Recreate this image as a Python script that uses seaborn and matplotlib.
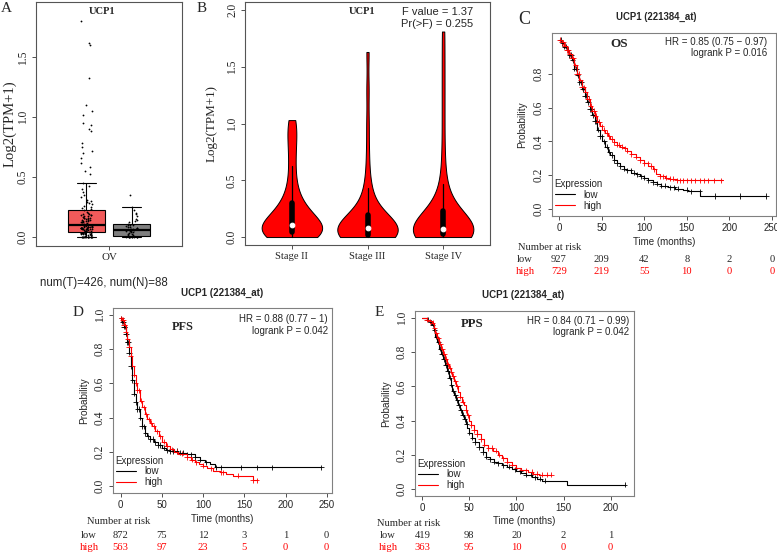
import numpy as np
import pandas as pd
import seaborn as sns
import matplotlib.pyplot as plt
from matplotlib.transforms import blended_transform_factory

W, H = 777, 554
SERIF = ['Liberation Serif', 'DejaVu Serif']
SANS = ['Liberation Sans', 'DejaVu Sans']

# ---------------- A: UCP1 in OV, tumour vs normal, log2(TPM+1)
tumor_vals = [0, 0, 0, 0, 0, 0, 0, 0, 0, 0, 0, 0, 0, 0, 0, 0, 0.005, 0.01, 0.01, 0.01,
              0.015, 0.02, 0.02, 0.02, 0.025, 0.025, 0.03, 0.03, 0.03, 0.03, 0.03, 0.03,
              0.03, 0.035, 0.04, 0.04, 0.04, 0.045, 0.045, 0.05, 0.05, 0.05, 0.055, 0.055,
              0.06, 0.06, 0.06, 0.06, 0.065, 0.065, 0.065, 0.07, 0.07, 0.07, 0.07, 0.075,
              0.075, 0.075, 0.075, 0.08, 0.08, 0.08, 0.08, 0.08, 0.08, 0.085, 0.09, 0.09,
              0.09, 0.095, 0.1, 0.1, 0.1, 0.105, 0.11, 0.11, 0.115, 0.12, 0.12, 0.12, 0.125,
              0.13, 0.13, 0.135, 0.14, 0.14, 0.14, 0.145, 0.15, 0.155, 0.16, 0.16, 0.16,
              0.165, 0.17, 0.175, 0.18, 0.18, 0.185, 0.19, 0.19, 0.2, 0.21, 0.22, 0.23, 0.24,
              0.25, 0.26, 0.27, 0.28, 0.29, 0.3, 0.31, 0.33, 0.35, 0.37, 0.4, 0.42, 0.45,
              0.52, 0.55, 0.58, 0.62, 0.66, 0.7, 0.72, 0.75, 0.78, 0.88, 0.9, 0.93, 0.95,
              1.02, 1.05, 1.1, 1.33, 1.6, 1.62, 1.8]
normal_vals = [0, 0, 0, 0, 0, 0, 0, 0, 0, 0, 0, 0.01, 0.015, 0.02, 0.025, 0.03, 0.035,
               0.04, 0.045, 0.05, 0.05, 0.055, 0.06, 0.06, 0.065, 0.07, 0.075, 0.08, 0.085,
               0.09, 0.095, 0.1, 0.1, 0.11, 0.12, 0.13, 0.14, 0.15, 0.17, 0.19, 0.2, 0.22,
               0.245, 0.35]
groups_A = ['Tumor', 'Normal']

# ---------------- B: UCP1 by stage
stage_names = ['Stage II', 'Stage III', 'Stage IV']
stage2_vals = [0, 0, 0, 0.005, 0.01, 0.02, 0.03, 0.04, 0.05, 0.06, 0.07, 0.08, 0.09, 0.095,
               0.1, 0.105, 0.11, 0.15, 0.17, 0.19, 0.21, 0.24, 0.27, 0.29, 0.34, 0.42, 0.5,
               0.63, 0.75, 0.86, 0.95, 1.03]
stage3_vals = [0, 0, 0, 0, 0, 0.005, 0.01, 0.01, 0.015, 0.02, 0.02, 0.025, 0.03, 0.04, 0.05,
               0.055, 0.06, 0.065, 0.07, 0.075, 0.08, 0.085, 0.09, 0.1, 0.11, 0.12, 0.13,
               0.15, 0.17, 0.19, 0.22, 0.26, 0.3, 0.36, 0.43, 0.55, 0.75, 1.0, 1.3, 1.63]
stage4_vals = [0, 0, 0, 0, 0, 0.005, 0.01, 0.01, 0.015, 0.02, 0.02, 0.025, 0.03, 0.035, 0.04,
               0.045, 0.05, 0.055, 0.06, 0.06, 0.065, 0.07, 0.075, 0.08, 0.09, 0.1, 0.11,
               0.12, 0.14, 0.16, 0.18, 0.2, 0.22, 0.26, 0.29, 0.33, 0.38, 0.47, 0.6, 0.8,
               1.05, 1.3, 1.55, 1.81]

# ---------------- C: OS
os_low_t = [0, 3, 6, 9, 12, 15, 18, 21, 24, 27, 30, 33, 36, 39, 42, 45, 48, 51, 54, 57, 60,
            64, 68, 72, 76, 80, 85, 90, 95, 100, 105, 110, 115, 120, 128, 136, 145, 152,
            166, 243]
os_low_s = [1.0, 0.98, 0.96, 0.94, 0.91, 0.88, 0.83, 0.79, 0.75, 0.71, 0.67, 0.63, 0.59,
            0.555, 0.52, 0.47, 0.43, 0.40, 0.37, 0.34, 0.32, 0.29, 0.27, 0.255, 0.24, 0.23,
            0.215, 0.205, 0.195, 0.185, 0.17, 0.16, 0.15, 0.14, 0.13, 0.12, 0.115, 0.105,
            0.078, 0.078]
os_high_t = [0, 3, 6, 9, 12, 15, 18, 21, 24, 27, 30, 33, 36, 39, 42, 45, 48, 51, 54, 57, 60,
             64, 68, 72, 76, 80, 85, 90, 95, 100, 105, 110, 114, 118, 124, 130, 138, 192]
os_high_s = [1.0, 0.985, 0.965, 0.94, 0.915, 0.89, 0.85, 0.80, 0.76, 0.72, 0.69, 0.65, 0.61,
             0.58, 0.55, 0.515, 0.49, 0.47, 0.45, 0.43, 0.415, 0.395, 0.38, 0.37, 0.36,
             0.345, 0.325, 0.31, 0.29, 0.27, 0.255, 0.235, 0.21, 0.195, 0.185, 0.18, 0.17,
             0.17]
os_low_cens = [2, 4, 6, 8, 10, 12, 14, 16, 18, 20, 22, 24, 26, 28, 30, 32, 34, 36, 38, 40, 42,
               44, 46, 48, 50, 53, 56, 59, 62, 65, 68, 72, 76, 80, 84, 88, 92, 96, 100, 105,
               110, 115, 120, 125, 130, 135, 140, 150, 155, 165, 183, 213, 243]
os_high_cens = [1, 3, 5, 7, 9, 11, 13, 15, 17, 19, 21, 23, 25, 27, 29, 31, 33, 35, 37, 39, 41,
                43, 45, 47, 50, 53, 56, 59, 62, 65, 68, 71, 74, 77, 80, 85, 90, 95, 100, 104,
                108, 112, 118, 122, 126, 130, 134, 138, 142, 146, 150, 155, 160, 165, 170,
                175, 182, 190]
os_risk_t = [0, 50, 100, 150, 200, 250]
os_risk_low = [927, 209, 42, 8, 2, 0]
os_risk_high = [729, 219, 55, 10, 0, 0]

# ---------------- D: PFS
pfs_low_t = [0, 2, 4, 6, 8, 10, 12, 14, 16, 18, 20, 23, 26, 29, 32, 35, 40, 45, 50, 55, 60,
             70, 80, 90, 96, 102, 108, 114, 243]
pfs_low_s = [0.98, 0.96, 0.93, 0.89, 0.84, 0.78, 0.70, 0.62, 0.54, 0.49, 0.45, 0.40, 0.35,
             0.31, 0.29, 0.275, 0.255, 0.24, 0.225, 0.21, 0.205, 0.195, 0.185, 0.17, 0.155,
             0.14, 0.13, 0.11, 0.11]
pfs_high_t = [0, 2, 4, 6, 8, 10, 12, 14, 16, 18, 20, 23, 26, 29, 32, 35, 38, 42, 46, 50, 55,
              60, 65, 70, 75, 80, 85, 90, 95, 100, 105, 112, 120, 128, 136, 160, 166]
pfs_high_s = [0.98, 0.97, 0.94, 0.90, 0.86, 0.81, 0.76, 0.70, 0.65, 0.60, 0.56, 0.50, 0.46,
              0.42, 0.39, 0.37, 0.35, 0.32, 0.29, 0.26, 0.235, 0.215, 0.20, 0.19, 0.185,
              0.17, 0.155, 0.14, 0.13, 0.12, 0.105, 0.09, 0.08, 0.07, 0.062, 0.033, 0.033]
pfs_low_cens = [1, 2, 3, 4, 5, 6, 7, 8, 9, 10, 12, 14, 16, 18, 20, 22, 24, 26, 28, 30, 33, 36,
                39, 42, 45, 48, 52, 56, 60, 64, 68, 72, 76, 80, 85, 90, 96, 104, 116, 122,
                146, 166, 183, 243]
pfs_high_cens = [1, 2, 3, 4, 5, 6, 8, 10, 12, 14, 16, 18, 20, 22, 25, 28, 31, 34, 37, 40, 44,
                 48, 52, 56, 62, 68, 74, 80, 86, 92, 100, 110, 122, 124, 142, 160, 165]
pfs_risk_t = [0, 50, 100, 150, 200, 250]
pfs_risk_low = [872, 75, 12, 3, 1, 0]
pfs_risk_high = [563, 97, 23, 5, 0, 0]

# ---------------- E: PPS
pps_low_t = [0, 5, 8, 10, 12, 14, 16, 18, 20, 22, 24, 26, 28, 30, 32, 34, 36, 38, 40, 42, 44,
             46, 48, 50, 53, 56, 60, 64, 68, 72, 76, 80, 85, 90, 95, 100, 105, 110, 116, 122,
             127, 154, 215]
pps_low_s = [1.0, 0.99, 0.975, 0.96, 0.93, 0.89, 0.86, 0.82, 0.79, 0.76, 0.725, 0.69, 0.65,
             0.61, 0.575, 0.55, 0.52, 0.49, 0.46, 0.435, 0.41, 0.38, 0.355, 0.33, 0.30, 0.275,
             0.245, 0.215, 0.19, 0.175, 0.16, 0.15, 0.14, 0.13, 0.115, 0.105, 0.095, 0.085,
             0.07, 0.06, 0.05, 0.025, 0.025]
pps_high_t = [0, 5, 8, 10, 12, 14, 16, 18, 20, 22, 24, 26, 28, 30, 32, 34, 36, 38, 40, 42, 44,
              46, 48, 50, 52, 55, 58, 62, 66, 70, 75, 80, 85, 90, 95, 100, 105, 112, 118, 124,
              137]
pps_high_s = [1.0, 0.99, 0.98, 0.97, 0.94, 0.91, 0.88, 0.85, 0.82, 0.79, 0.76, 0.73, 0.71,
              0.685, 0.66, 0.63, 0.60, 0.57, 0.54, 0.51, 0.49, 0.46, 0.43, 0.40, 0.375, 0.345,
              0.32, 0.29, 0.26, 0.24, 0.225, 0.20, 0.18, 0.16, 0.14, 0.125, 0.11, 0.10, 0.09,
              0.085, 0.085]
pps_low_cens = [6, 9, 11, 13, 15, 17, 19, 21, 23, 25, 27, 29, 31, 33, 35, 37, 39, 41, 43, 45,
                47, 50, 53, 56, 60, 64, 68, 72, 76, 80, 86, 92, 98, 104, 110, 115, 120, 125,
                130, 215]
pps_high_cens = [5, 8, 11, 13, 15, 17, 19, 21, 23, 25, 27, 29, 31, 33, 35, 37, 40, 43, 46, 49,
                 52, 55, 58, 62, 66, 70, 74, 78, 82, 86, 90, 95, 100, 105, 110, 116, 122, 127,
                 132, 137]
pps_risk_t = [0, 50, 100, 150, 200]
pps_risk_low = [419, 98, 20, 2, 1]
pps_risk_high = [363, 95, 10, 0, 0]

KM_PAL = {'low': 'black', 'high': '#FF0000'}

sns.set_style('ticks')
plt.rcParams['font.family'] = SANS
plt.rcParams['axes.linewidth'] = 0.8

fig = plt.figure(figsize=(W / 100, H / 100), dpi=100)


def px_axes(l, t, r, b):
    return fig.add_axes([l / W, 1 - b / H, (r - l) / W, (b - t) / H])


def ftext(x, y, s, **kw):
    kw.setdefault('va', 'center')
    return fig.text(x / W, 1 - y / H, s, **kw)


def frame(ax, color):
    for sp in ax.spines.values():
        sp.set_visible(True)
        sp.set_color(color)
        sp.set_linewidth(0.8)
    ax.tick_params(direction='out', length=3, width=0.6, color='#333333', pad=2)


def step_y(times, surv, cens):
    idx = np.searchsorted(times, cens, side='right') - 1
    return list(np.asarray(surv)[idx])


# ---------------- panel A
axA = px_axes(36, 2, 182, 246)
dfA = pd.DataFrame({'group': ['Tumor'] * len(tumor_vals) + ['Normal'] * len(normal_vals),
                    'value': tumor_vals + normal_vals})
sns.boxplot(data=dfA, x='group', y='value', hue='group', order=groups_A,
            palette={'Tumor': '#F25A5A', 'Normal': '#7F7F7F'}, saturation=1,
            width=0.82, showfliers=False, linewidth=0.8, linecolor='black',
            medianprops=dict(linewidth=1.6), legend=False, ax=axA)
sns.stripplot(data=dfA, x='group', y='value', order=groups_A, color='black', size=1.3,
              jitter=0.13, ax=axA)
axA.set_xlim(-1.12, 2.12)
axA.set_ylim(-0.078, 1.962)
axA.set_xticks([0.5])
axA.set_xticklabels(['OV'], family=SERIF, fontsize=7.8)
axA.set_yticks([0, 0.5, 1.0, 1.5])
axA.set_yticklabels(['0.0', '0.5', '1.0', '1.5'], rotation=90, va='center',
                    family=SERIF, fontsize=8.3)
axA.set_xlabel('')
axA.set_ylabel('Log2(TPM+1)', family=SERIF, fontsize=10.6)
axA.yaxis.set_label_coords(-0.13, 0.5)
frame(axA, '#555555')
ftext(1, 9, 'A', family=SERIF, fontsize=11, ha='left')
ftext(102, 12, 'UCP1', family=SERIF, fontsize=7.6, fontweight='bold', ha='center')
ftext(40, 283, 'num(T)=426, num(N)=88', family=SANS, fontsize=8.3, ha='left')

# ---------------- panel B
axB = px_axes(245, 2, 490, 245)
dfB = pd.DataFrame({'stage': ['Stage II'] * len(stage2_vals) + ['Stage III'] * len(stage3_vals)
                    + ['Stage IV'] * len(stage4_vals),
                    'value': stage2_vals + stage3_vals + stage4_vals})
sns.violinplot(data=dfB, x='stage', y='value', order=stage_names, color='#FF0000',
               saturation=1, cut=0, inner='box', linewidth=0.7, linecolor='black',
               density_norm='width', width=0.8, bw_adjust=0.75,
               inner_kws=dict(box_width=4, whis_width=0.9, marker='o'), ax=axB)
axB.set_xlim(-0.62, 2.62)
axB.set_ylim(-0.07, 2.07)
axB.set_xticks(range(3))
axB.set_xticklabels(stage_names, family=SERIF, fontsize=7.6)
axB.set_yticks([0, 0.5, 1.0, 1.5, 2.0])
axB.set_yticklabels(['0.0', '0.5', '1.0', '1.5', '2.0'], rotation=90, va='center',
                    family=SERIF, fontsize=8.3)
axB.set_xlabel('')
axB.set_ylabel('Log2(TPM+1)', family=SERIF, fontsize=9.4)
axB.yaxis.set_label_coords(-0.11, 0.5)
frame(axB, '#555555')
ftext(197, 9, 'B', family=SERIF, fontsize=11, ha='left')
ftext(362, 12, 'UCP1', family=SERIF, fontsize=7.6, fontweight='bold', ha='center')
ftext(473, 12, 'F value = 1.37', family=SANS, fontsize=8, ha='right')
ftext(473, 24, 'Pr(>F) = 0.255', family=SANS, fontsize=8, ha='right')


# ---------------- KM panels
def km_panel(ax, low_t, low_s, high_t, high_s, low_c, high_c, xlim, xticks, yticks, xlab_y):
    curves = pd.DataFrame({'time': low_t + high_t, 'surv': low_s + high_s,
                           'group': ['low'] * len(low_t) + ['high'] * len(high_t)})
    sns.lineplot(data=curves, x='time', y='surv', hue='group', hue_order=['low', 'high'],
                 palette=KM_PAL, drawstyle='steps-post', estimator=None, sort=False,
                 linewidth=0.8, ax=ax)
    marks = pd.DataFrame({'time': low_c + high_c,
                          'surv': step_y(low_t, low_s, low_c) + step_y(high_t, high_s, high_c),
                          'group': ['low'] * len(low_c) + ['high'] * len(high_c)})
    sns.scatterplot(data=marks, x='time', y='surv', hue='group', hue_order=['low', 'high'],
                    palette=KM_PAL, marker='+', s=14, linewidth=0.6, legend=False, ax=ax)
    sns.move_legend(ax, 'lower left', bbox_to_anchor=(0.012, 0.03), title='Expression',
                    frameon=False, fontsize=7, title_fontsize=7, handlelength=2.1,
                    handletextpad=0.9, labelspacing=0.1, borderaxespad=0, borderpad=0,
                    alignment='left')
    ax.set_xlim(*xlim)
    ax.set_ylim(-0.04, 1.04)
    ax.set_xticks(xticks)
    ax.set_xticklabels([str(t) for t in xticks], family=SANS, fontsize=7)
    ax.set_yticks(yticks)
    ax.set_yticklabels(['%.1f' % v for v in yticks], rotation=90, va='center',
                       family=SERIF, fontsize=8.3)
    ax.set_xlabel('Time (months)', family=SANS, fontsize=7)
    ax.set_ylabel('Probability', family=SANS, fontsize=7.2)
    ax.xaxis.set_label_coords(0.5, xlab_y)
    ax.yaxis.set_label_coords(-0.11, 0.5)
    frame(ax, '#808080')


def risk_table(ax, times, low_n, high_n, x_head, x_lab, y_head, y_low, y_high):
    tr = blended_transform_factory(ax.transData, fig.transFigure)
    ftext(x_head, y_head, 'Number at risk', family=SERIF, fontsize=7.6, ha='left')
    ftext(x_lab, y_low, 'low', family=SERIF, fontsize=7.6, ha='center')
    ftext(x_lab, y_high, 'high', family=SERIF, fontsize=7.6, ha='center', color='#FF0000')
    for t, n in zip(times, low_n):
        ax.text(t, 1 - y_low / H, str(n), transform=tr, ha='center', va='center',
                family=SERIF, fontsize=7.6)
    for t, n in zip(times, high_n):
        ax.text(t, 1 - y_high / H, str(n), transform=tr, ha='center', va='center',
                family=SERIF, fontsize=7.6, color='#FF0000')


axC = px_axes(552, 33, 776, 216)
km_panel(axC, os_low_t, os_low_s, os_high_t, os_high_s, os_low_cens, os_high_cens,
         (-8.2, 254.7), [0, 50, 100, 150, 200, 250], [0, 0.2, 0.4, 0.6, 0.8], -0.115)
risk_table(axC, os_risk_t, os_risk_low, os_risk_high, 518, 525, 247, 259, 272)
ftext(518, 19, 'C', family=SERIF, fontsize=13, ha='left')
ftext(656, 17, 'UCP1 (221384_at)', family=SANS, fontsize=6.9, fontweight='bold', ha='center')
ftext(619, 44, 'OS', family=SERIF, fontsize=9.5, fontweight='bold', ha='center')
ftext(767, 42, 'HR = 0.85 (0.75 \u2212 0.97)', family=SANS, fontsize=7, ha='right')
ftext(767, 53, 'logrank P = 0.016', family=SANS, fontsize=7, ha='right')

axD = px_axes(113, 308, 332, 493)
km_panel(axD, pfs_low_t, pfs_low_s, pfs_high_t, pfs_high_s, pfs_low_cens, pfs_high_cens,
         (-9.3, 256.4), [0, 50, 100, 150, 200, 250], [0, 0.2, 0.4, 0.6, 0.8, 1.0], -0.115)
risk_table(axD, pfs_risk_t, pfs_risk_low, pfs_risk_high, 87, 89, 521, 535, 547)
ftext(73, 312, 'D', family=SERIF, fontsize=11, ha='left')
ftext(222, 293, 'UCP1 (221384_at)', family=SANS, fontsize=7, fontweight='bold', ha='center')
ftext(183, 327, 'PFS', family=SERIF, fontsize=8.8, fontweight='bold', ha='center')
ftext(328, 319, 'HR = 0.88 (0.77 \u2212 1)', family=SANS, fontsize=7, ha='right')
ftext(328, 331, 'logrank P = 0.042', family=SANS, fontsize=7, ha='right')

axE = px_axes(415, 311, 634, 496)
km_panel(axE, pps_low_t, pps_low_s, pps_high_t, pps_high_s, pps_low_cens, pps_high_cens,
         (-7.7, 224.8), [0, 50, 100, 150, 200], [0, 0.2, 0.4, 0.6, 0.8, 1.0], -0.11)
risk_table(axE, pps_risk_t, pps_risk_low, pps_risk_high, 377, 388, 523, 535, 547)
ftext(375, 312, 'E', family=SERIF, fontsize=11, ha='left')
ftext(523, 295, 'UCP1 (221384_at)', family=SANS, fontsize=7, fontweight='bold', ha='center')
ftext(472, 324, 'PPS', family=SERIF, fontsize=9.2, fontweight='bold', ha='center')
ftext(629, 321, 'HR = 0.84 (0.71 \u2212 0.99)', family=SANS, fontsize=7, ha='right')
ftext(629, 332, 'logrank P = 0.042', family=SANS, fontsize=7, ha='right')

fig.savefig('out.png', dpi=100)
